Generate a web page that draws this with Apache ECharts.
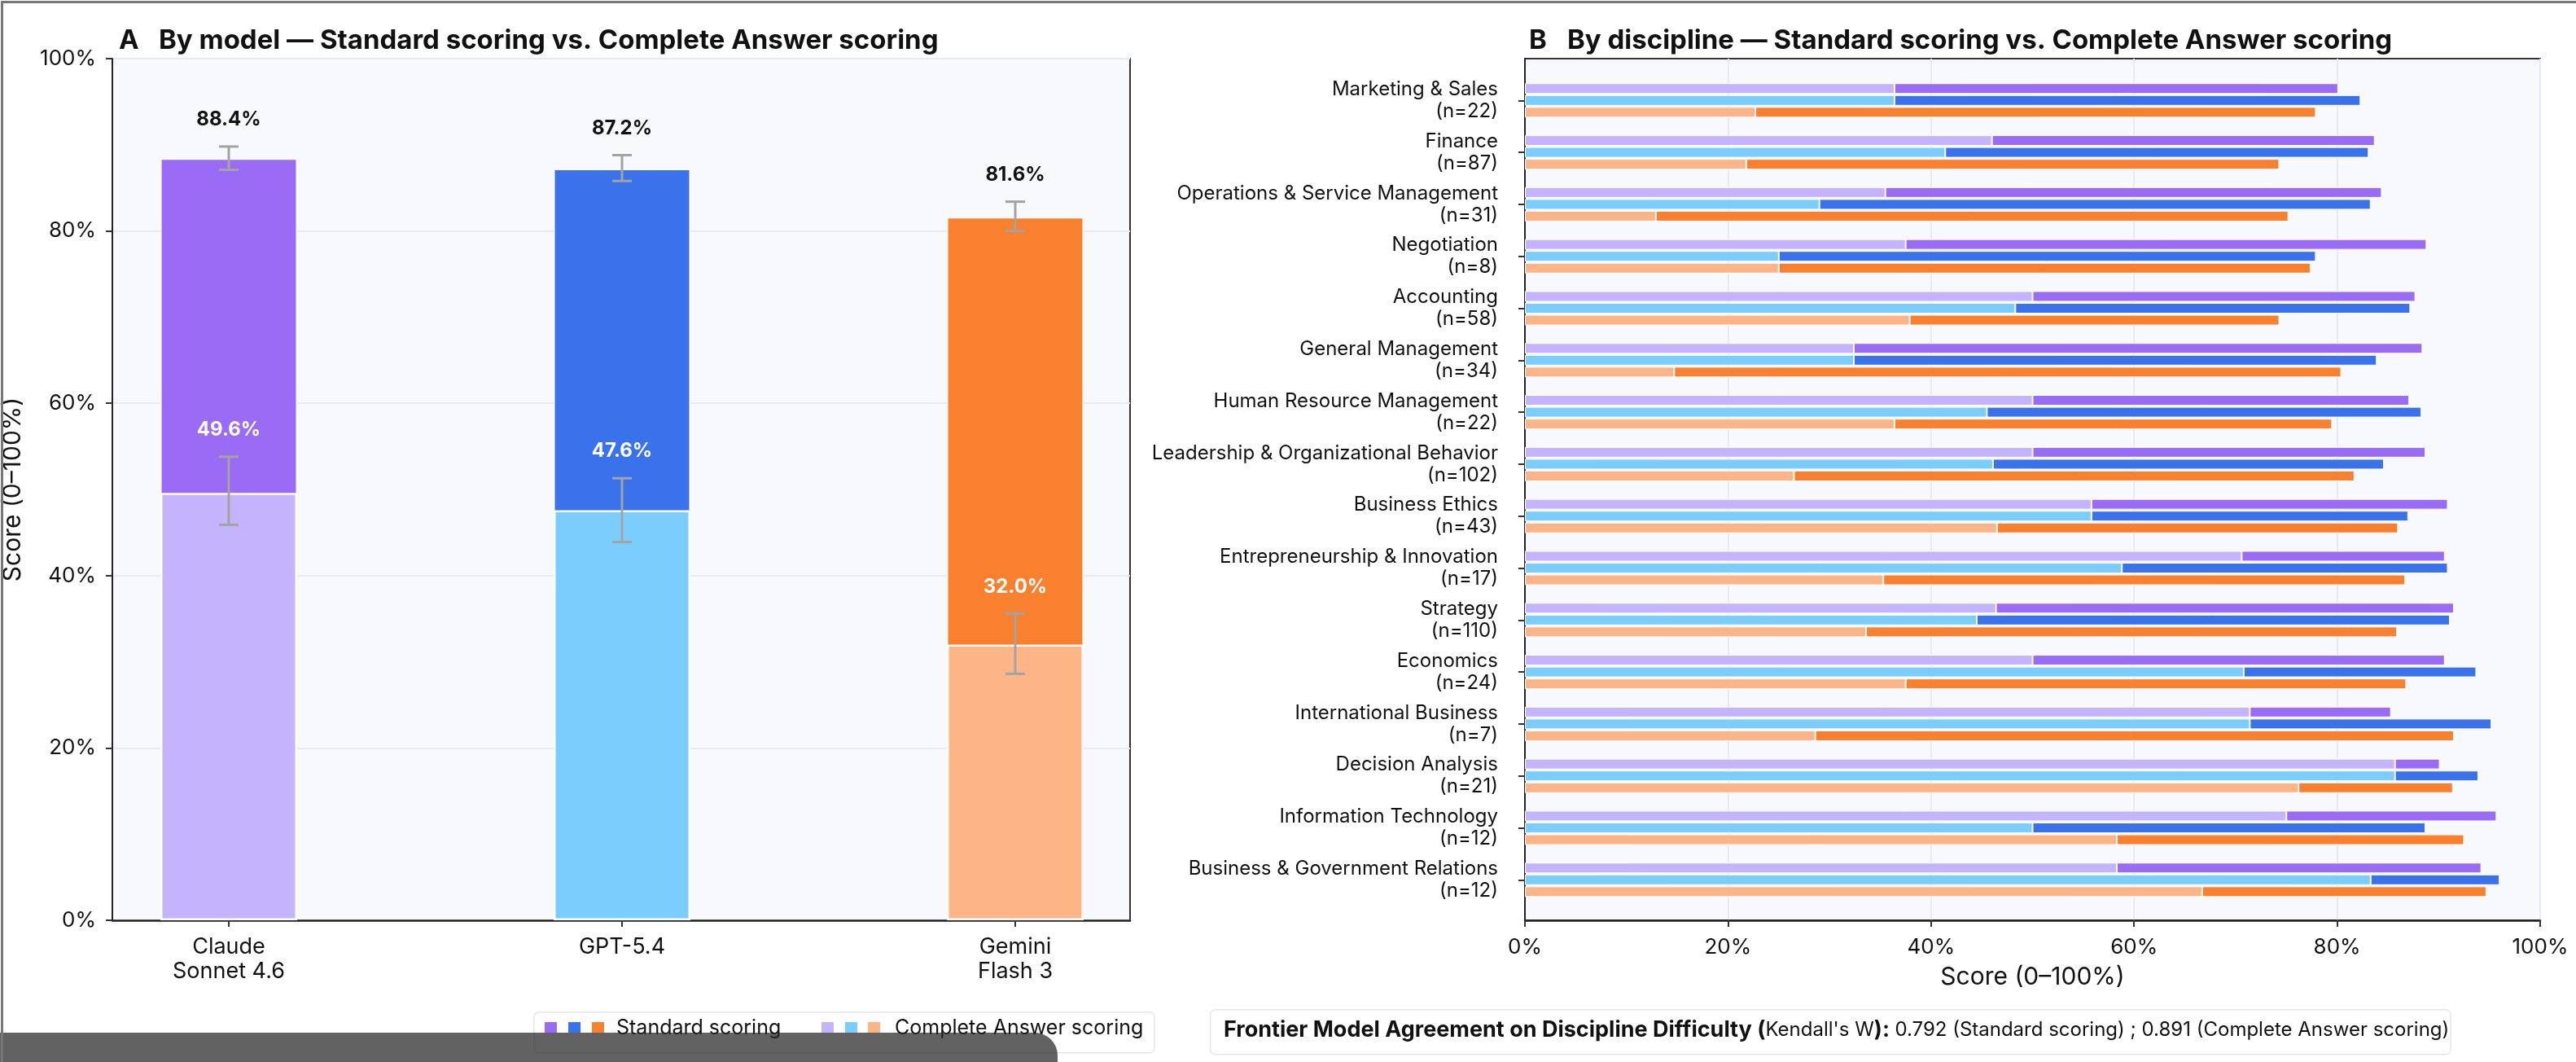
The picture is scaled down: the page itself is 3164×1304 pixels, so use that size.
<!DOCTYPE html>
<html>
<head>
<meta charset="utf-8">
<script src="https://cdn.jsdelivr.net/npm/echarts@6/dist/echarts.min.js"></script>
<style>
  html, body { margin: 0; padding: 0; background: #fff; }
  #chart { width: 3164px; height: 1304px; }
</style>
</head>
<body>
<div id="chart"></div>
<script>
// ---- panel A: by model ----
var models = ['Claude\nSonnet 4.6', 'GPT-5.4', 'Gemini\nFlash 3'];
var standardScore = [88.4, 87.2, 81.6];
var standardLow = [87.1, 85.8, 80.0];
var standardHigh = [89.8, 88.8, 83.4];
var completeScore = [49.6, 47.6, 32.0];
var completeLow = [45.9, 43.9, 28.6];
var completeHigh = [53.8, 51.3, 35.6];

// ---- panel B: by discipline ----
var disciplines = ['Marketing & Sales', 'Finance', 'Operations & Service Management', 'Negotiation',
    'Accounting', 'General Management', 'Human Resource Management', 'Leadership & Organizational Behavior',
    'Business Ethics', 'Entrepreneurship & Innovation', 'Strategy', 'Economics', 'International Business',
    'Decision Analysis', 'Information Technology', 'Business & Government Relations'];
var disciplineN = [22, 87, 31, 8, 58, 34, 22, 102, 43, 17, 110, 24, 7, 21, 12, 12];

var claudeStandard = [80.1, 83.7, 84.4, 88.8, 87.7, 88.4, 87.1, 88.7, 90.9, 90.6, 91.5, 90.6, 85.3, 90.1, 95.7, 94.2];
var claudeComplete = [36.4, 46.0, 35.5, 37.5, 50.0, 32.4, 50.0, 50.0, 55.8, 70.6, 46.4, 50.0, 71.4, 85.7, 75.0, 58.3];
var gptStandard = [82.3, 83.1, 83.3, 77.9, 87.2, 83.9, 88.3, 84.6, 87.0, 90.9, 91.1, 93.7, 95.2, 93.9, 88.7, 96.0];
var gptComplete = [36.4, 41.4, 29.0, 25.0, 48.3, 32.4, 45.5, 46.1, 55.8, 58.8, 44.5, 70.8, 71.4, 85.7, 50.0, 83.3];
var geminiStandard = [77.9, 74.3, 75.2, 77.4, 74.3, 80.4, 79.5, 81.7, 86.0, 86.7, 85.9, 86.8, 91.5, 91.4, 92.5, 94.7];
var geminiComplete = [22.7, 21.8, 12.9, 25.0, 37.9, 14.7, 36.4, 26.5, 46.5, 35.3, 33.6, 37.5, 28.6, 76.2, 58.3, 66.7];

var kendallStandard = 0.792;
var kendallComplete = 0.891;

var darkColors = ['#9a6bf5', '#3a72eb', '#f8802e'];
var lightColors = ['#c4b4fd', '#7acdfc', '#fdb487'];

var FONT = 'Inter';
var dom = document.getElementById('chart');
var myChart = echarts.init(dom);

// error bar + value label, placed through the axis scale
function errorBar(labelColor) {
    return function (params, api) {
        var x = api.value(0);
        var lo = api.coord([x, api.value(1)]);
        var hi = api.coord([x, api.value(2)]);
        var cap = 12;
        var st = {stroke: '#a3a3a3', lineWidth: 3};
        return {
            type: 'group',
            children: [
                {type: 'line', shape: {x1: lo[0], y1: lo[1], x2: hi[0], y2: hi[1]}, style: st},
                {type: 'line', shape: {x1: lo[0] - cap, y1: lo[1], x2: lo[0] + cap, y2: lo[1]}, style: st},
                {type: 'line', shape: {x1: hi[0] - cap, y1: hi[1], x2: hi[0] + cap, y2: hi[1]}, style: st},
                {type: 'text', x: hi[0], y: hi[1] - 33, style: {
                    text: api.value(3).toFixed(1) + '%', fill: labelColor,
                    font: 'bold 24px ' + FONT, align: 'center', verticalAlign: 'middle'
                }}
            ]
        };
    };
}

// panel B: light bar = complete answer, dark bar continues up to standard score
var rightSeries = [];
[[claudeComplete, claudeStandard], [gptComplete, gptStandard], [geminiComplete, geminiStandard]].forEach(function (pair, m) {
    rightSeries.push({
        type: 'bar', xAxisIndex: 3, yAxisIndex: 3, stack: 'm' + m,
        data: pair[0], barWidth: 13, barGap: '12%',
        itemStyle: {color: lightColors[m], borderColor: '#fff', borderWidth: 1}
    });
    rightSeries.push({
        type: 'bar', xAxisIndex: 3, yAxisIndex: 3, stack: 'm' + m,
        data: pair[1].map(function (v, i) { return +(v - pair[0][i]).toFixed(2); }),
        barWidth: 13, barGap: '12%',
        itemStyle: {color: darkColors[m], borderColor: '#fff', borderWidth: 1}
    });
});

var tickLabel = {fontSize: 26, color: '#111', fontFamily: FONT, formatter: function (v) { return v + '%'; }};

var option = {
    backgroundColor: '#fff',
    animation: false,
    textStyle: {fontFamily: FONT},
    title: [{
        left: 141, top: 29,
        text: '{a|A}{b|By model — Standard scoring vs. Complete Answer scoring}',
        textStyle: {rich: {
            a: {fontFamily: FONT, fontWeight: 'bold', fontSize: 33, color: '#111', width: 49},
            b: {fontFamily: FONT, fontWeight: 'bold', fontSize: 33, color: '#111'}
        }}
    }, {
        left: 1873, top: 29,
        text: '{a|B}{b|By discipline — Standard scoring vs. Complete Answer scoring}',
        textStyle: {rich: {
            a: {fontFamily: FONT, fontWeight: 'bold', fontSize: 33, color: '#111', width: 47},
            b: {fontFamily: FONT, fontWeight: 'bold', fontSize: 33, color: '#111'}
        }}
    }],
    grid: [
        // frame of panel A, and the grid its bars live in (wider, so the bars get matplotlib-like margins)
        {left: 138, top: 72, width: 1250, height: 1058, show: true, backgroundColor: '#f8f9fd',
            borderColor: '#333', borderWidth: 2, outerBoundsMode: 'none'},
        {left: 39.5, top: 72, width: 1449, height: 1058, outerBoundsMode: 'none'},
        // frame of panel B, and its bar grid
        {left: 1873, top: 72, width: 1247, height: 1058, show: true, backgroundColor: '#f8f9fd',
            borderColor: '#333', borderWidth: 2, outerBoundsMode: 'none'},
        {left: 1873, top: 91.4, width: 1247, height: 1020.8, outerBoundsMode: 'none'}
    ],
    xAxis: [
        {gridIndex: 0, type: 'value', min: 0, max: 1, axisLabel: {show: false}, axisTick: {show: false},
            splitLine: {show: false}, axisLine: {show: true, lineStyle: {color: '#222', width: 2.5}}},
        {gridIndex: 1, type: 'category', data: models, axisLine: {show: false},
            axisTick: {show: true, alignWithLabel: true, length: 8, lineStyle: {color: '#333', width: 2}},
            axisLabel: {fontSize: 27, color: '#111', lineHeight: 30, margin: 18, fontFamily: FONT}},
        {gridIndex: 2, type: 'value', min: 0, max: 100, interval: 20,
            name: 'Score (0–100%)', nameLocation: 'middle', nameGap: 55,
            nameTextStyle: {fontSize: 30, color: '#111', fontFamily: FONT},
            axisLine: {show: true, lineStyle: {color: '#222', width: 2.5}},
            axisTick: {show: true, length: 8, lineStyle: {color: '#333', width: 2}},
            axisLabel: Object.assign({margin: 20}, tickLabel),
            splitLine: {show: true, lineStyle: {color: '#e8e9f6', width: 2}}},
        {gridIndex: 3, type: 'value', min: 0, max: 100, show: false}
    ],
    yAxis: [
        {gridIndex: 0, type: 'value', min: 0, max: 100, interval: 20,
            name: 'Score (0–100%)', nameLocation: 'middle', nameGap: 107, nameRotate: 90,
            nameTextStyle: {fontSize: 30, color: '#111', fontFamily: FONT},
            axisLine: {show: true, lineStyle: {color: '#222', width: 2}},
            axisTick: {show: true, length: 8, lineStyle: {color: '#333', width: 2}},
            axisLabel: Object.assign({margin: 20}, tickLabel),
            splitLine: {show: true, lineStyle: {color: '#e6ebf8', width: 2}}},
        {gridIndex: 1, type: 'value', min: 0, max: 100, show: false},
        {gridIndex: 2, type: 'value', min: 0, max: 1, axisLabel: {show: false}, axisTick: {show: false},
            splitLine: {show: false}, axisLine: {show: true, lineStyle: {color: '#222', width: 2}}},
        {gridIndex: 3, type: 'category', inverse: true, data: disciplines,
            axisLine: {show: false},
            axisTick: {show: true, alignWithLabel: true, length: 8, lineStyle: {color: '#333', width: 2}},
            axisLabel: {fontSize: 24, lineHeight: 27, color: '#111', margin: 33, align: 'right', fontFamily: FONT,
                formatter: function (v, i) { return v + '\n(n=' + disciplineN[i] + ')'; }}}
    ],
    series: [
        {
            name: 'Standard scoring', type: 'bar', xAxisIndex: 1, yAxisIndex: 1, barWidth: 168,
            data: standardScore.map(function (v, i) { return {value: v, itemStyle: {color: darkColors[i]}}; }),
            itemStyle: {borderColor: '#fff', borderWidth: 1.5}
        },
        {
            name: 'Complete Answer scoring', type: 'bar', xAxisIndex: 1, yAxisIndex: 1, barWidth: 168, barGap: '-100%',
            data: completeScore.map(function (v, i) { return {value: v, itemStyle: {color: lightColors[i]}}; }),
            itemStyle: {borderColor: '#fff', borderWidth: 2.5}
        },
        {
            type: 'custom', xAxisIndex: 1, yAxisIndex: 1, z: 5, renderItem: errorBar('#111'),
            encode: {x: 0, y: [1, 2]},
            data: standardScore.map(function (v, i) { return [i, standardLow[i], standardHigh[i], v]; })
        },
        {
            type: 'custom', xAxisIndex: 1, yAxisIndex: 1, z: 5, renderItem: errorBar('#fff'),
            encode: {x: 0, y: [1, 2]},
            data: completeScore.map(function (v, i) { return [i, completeLow[i], completeHigh[i], v]; })
        }
    ].concat(rightSeries),
    graphic: [
        // legend
        {type: 'rect', left: 655, top: 1242, shape: {width: 762, height: 50, r: 6},
            style: {fill: '#fff', stroke: '#e6e6e6', lineWidth: 1.5}, z: 10},
        {type: 'rect', left: 669, top: 1255, shape: {width: 15, height: 13}, style: {fill: darkColors[0]}, z: 11},
        {type: 'rect', left: 698, top: 1255, shape: {width: 15, height: 13}, style: {fill: darkColors[1]}, z: 11},
        {type: 'rect', left: 727, top: 1255, shape: {width: 15, height: 13}, style: {fill: darkColors[2]}, z: 11},
        {type: 'text', x: 757, y: 1262, style: {text: 'Standard scoring', font: '25px ' + FONT, fill: '#111',
            verticalAlign: 'middle'}, z: 11},
        {type: 'rect', left: 1009, top: 1255, shape: {width: 15, height: 13}, style: {fill: lightColors[0]}, z: 11},
        {type: 'rect', left: 1038, top: 1255, shape: {width: 15, height: 13}, style: {fill: lightColors[1]}, z: 11},
        {type: 'rect', left: 1066, top: 1255, shape: {width: 15, height: 13}, style: {fill: lightColors[2]}, z: 11},
        {type: 'text', x: 1099, y: 1262, style: {text: 'Complete Answer scoring', font: '25px ' + FONT, fill: '#111',
            verticalAlign: 'middle'}, z: 11},
        // Kendall's W note
        {type: 'rect', left: 1486, top: 1239, shape: {width: 1523, height: 55, r: 6},
            style: {fill: '#fff', stroke: '#e6e6e6', lineWidth: 1.5}, z: 10},
        {type: 'text', x: 1503, y: 1265, z: 11, style: {
            text: '{b|Frontier Model Agreement on Discipline Difficulty (}{r|Kendall\'s W}{b|): }{r|' +
                kendallStandard.toFixed(3) + ' (Standard scoring) ; ' + kendallComplete.toFixed(3) +
                ' (Complete Answer scoring)}',
            verticalAlign: 'middle',
            rich: {
                b: {fontFamily: FONT, fontWeight: 'bold', fontSize: 27, fill: '#111'},
                r: {fontFamily: FONT, fontSize: 24, fill: '#111'}
            }
        }},
        // dark strip over the bottom left corner
        {type: 'rect', left: 0, top: 1268, shape: {width: 1299, height: 70, r: [0, 28, 0, 0]},
            style: {fill: 'rgba(40,40,40,0.73)'}, z: 20},
        // outer border
        {type: 'rect', left: 0, top: 0, shape: {width: 3164, height: 1304},
            style: {fill: 'none', stroke: '#777', lineWidth: 3}, z: 21, silent: true}
    ]
};

if (option && typeof option === 'object') {
    myChart.setOption(option);
}
</script>
</body>
</html>
